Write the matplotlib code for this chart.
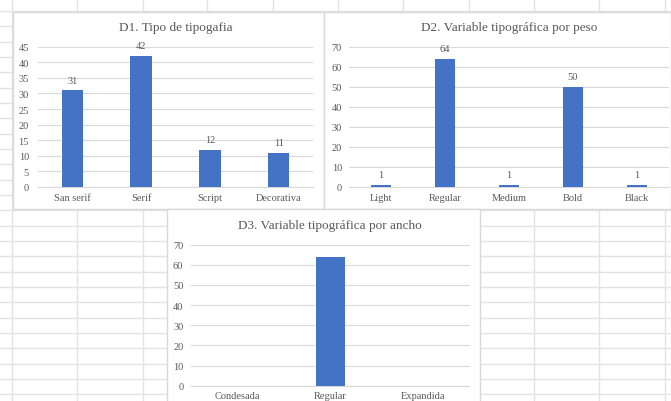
import matplotlib
matplotlib.use('Agg')
import matplotlib.pyplot as plt
from matplotlib.patches import Rectangle
from matplotlib import rcParams

rcParams['font.family'] = ['Liberation Serif', 'DejaVu Serif']

W, H = 671, 402
BAR = '#4472C4'
TXT = '#595959'
GRID = '#D9D9D9'
SHEET = '#E3E3E3'

# D1
tipo_cats = ['San serif', 'Serif', 'Script', 'Decorativa']
tipo_vals = [31, 42, 12, 11]
# D2
peso_cats = ['Light', 'Regular', 'Medium', 'Bold', 'Black']
peso_vals = [1, 64, 1, 50, 1]
# D3
ancho_cats = ['Condesada', 'Regular', 'Expandida']
ancho_vals = [0, 64, 0]

fig = plt.figure(figsize=(W / 100, H / 100), dpi=100)

# spreadsheet background, pixel coordinates
bg = fig.add_axes([0, 0, 1, 1])
bg.set_xlim(0, W)
bg.set_ylim(H, 0)
bg.axis('off')
for x in [12, 77, 143, 207, 273, 338, 403, 469, 534, 599, 665]:
    bg.plot([x, x], [0, H], color=SHEET, lw=1)
for k in range(27):
    y = 12 + k * 15.33
    bg.plot([0, W], [y, y], color=SHEET, lw=1)

# chart boxes
for (x0, y0, x1, y1) in [(13, 12.5, 324, 210), (324, 12.5, 671, 210), (167, 210, 480, 404)]:
    bg.add_patch(Rectangle((x0, y0), x1 - x0, y1 - y0, facecolor='white',
                           edgecolor=GRID, lw=1, zorder=3))


def px_axes(left, right, top, bottom):
    return fig.add_axes([left / W, (H - bottom) / H, (right - left) / W, (bottom - top) / H])


def bar_chart(ax, cats, vals, ymax, step, title, title_y, ypad, labels=True):
    xs = range(len(cats))
    ax.bar(xs, vals, width=0.313, color=BAR, zorder=3)
    ax.set_xlim(-0.5, len(cats) - 0.5)
    ax.set_ylim(0, ymax)
    ax.set_yticks(range(0, ymax + 1, step))
    ax.set_xticks(list(xs))
    ax.set_xticklabels(cats)
    ax.tick_params(length=0, labelsize=7.5, colors=TXT, pad=4)
    ax.tick_params(axis='y', pad=ypad)
    for s in ['top', 'right', 'left']:
        ax.spines[s].set_visible(False)
    ax.spines['bottom'].set_color(GRID)
    ax.spines['bottom'].set_linewidth(0.8)
    ax.yaxis.grid(True, color=GRID, lw=0.8)
    ax.set_axisbelow(True)
    ax.set_facecolor('none')
    if labels:
        for x, v in zip(xs, vals):
            ax.annotate(str(v), (x, v), xytext=(0, 4), textcoords='offset points',
                        ha='center', va='bottom', fontsize=7.5, color=TXT)
    fig.text(ax.get_position().x0 + ax.get_position().width / 2, 1 - title_y / H, title,
             ha='center', va='center', fontsize=9.5, color=TXT)


ax1 = px_axes(38, 313, 47.7, 188)
bar_chart(ax1, tipo_cats, tipo_vals, 45, 5, 'D1. Tipo de tipogafia', 28, 6.5)

ax2 = px_axes(349, 669, 47.7, 188)
bar_chart(ax2, peso_cats, peso_vals, 70, 10, 'D2. Variable tipográfica por peso', 28, 5)

ax3 = px_axes(191, 469.5, 245.7, 386.7)
bar_chart(ax3, ancho_cats, ancho_vals, 70, 10, 'D3. Variable tipográfica por ancho', 226, 5.5,
          labels=False)

fig.savefig('out.png', dpi=100)
